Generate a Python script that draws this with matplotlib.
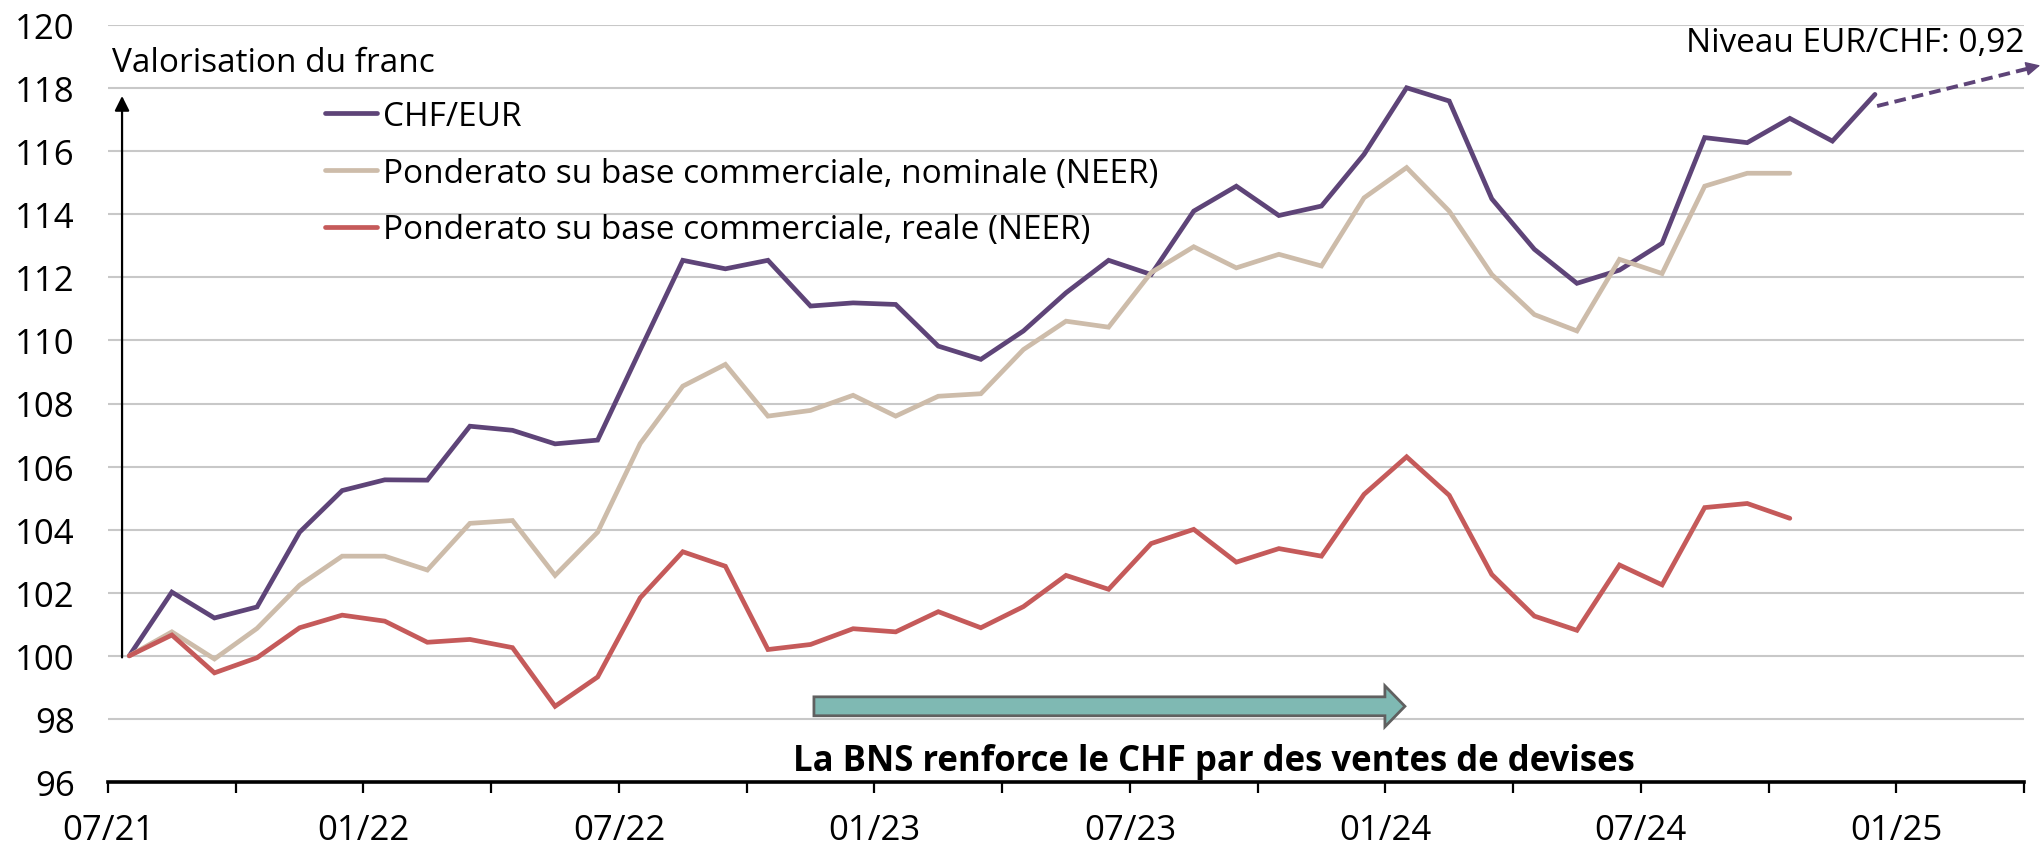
import numpy as np
import matplotlib
matplotlib.use("Agg")
import matplotlib.pyplot as plt
from matplotlib.patches import FancyArrow

plt.rcParams['font.family'] = ['Open Sans', 'DejaVu Sans']

# ---- data ----
months = ["07/21", "10/21", "01/22", "04/22", "07/22", "10/22", "01/23", "04/23",
          "07/23", "10/23", "01/24", "04/24", "07/24", "10/24", "01/25", "04/25"]
label_every = 2

chf_eur = [100.0, 102.02, 101.2, 101.55, 103.92, 105.24, 105.58, 105.57, 107.28, 107.15,
           106.72, 106.84, 109.7, 112.54, 112.27, 112.54, 111.09, 111.19, 111.14, 109.82,
           109.40, 110.30, 111.51, 112.54, 112.09, 114.10, 114.89, 113.96, 114.26, 115.90,
           118.01, 117.59, 114.49, 112.89, 111.81, 112.23, 113.08, 116.43, 116.27, 117.04,
           116.32, 117.80]
neer_nom = [100.0, 100.76, 99.90, 100.87, 102.24, 103.16, 103.16, 102.72, 104.20, 104.29,
            102.55, 103.92, 106.73, 108.55, 109.24, 107.60, 107.78, 108.26, 107.60, 108.23,
            108.31, 109.71, 110.61, 110.42, 112.15, 112.97, 112.30, 112.73, 112.36, 114.52,
            115.48, 114.10, 112.09, 110.82, 110.30, 112.57, 112.12, 114.89, 115.30, 115.30]
neer_real = [100.0, 100.66, 99.46, 99.94, 100.89, 101.29, 101.10, 100.43, 100.52, 100.26,
             98.40, 99.33, 101.84, 103.30, 102.84, 100.20, 100.36, 100.86, 100.76, 101.40,
             100.89, 101.56, 102.55, 102.11, 103.56, 104.01, 102.97, 103.40, 103.16, 105.12,
             106.31, 105.09, 102.58, 101.26, 100.81, 102.88, 102.25, 104.70, 104.83, 104.36]

series_labels = ["CHF/EUR", "Ponderato su base commerciale, nominale (NEER)",
                 "Ponderato su base commerciale, reale (NEER)"]
colors = ["#5E4478", "#CDBCAA", "#C55A5A"]

fs = 24
tfs = 25

fig = plt.figure(figsize=(20.41, 8.45), dpi=100)
ax = fig.add_axes([108/2041, 1-783/845, (2024-108)/2041, (783-26)/845])

for vals, c, lab in zip([chf_eur, neer_nom, neer_real], colors, series_labels):
    x = np.arange(len(vals)) + 0.5
    ax.plot(x, vals, color=c, lw=3.4, label=lab, solid_capstyle='round', solid_joinstyle='miter', zorder=3)

ax.set_xlim(0, 3*(len(months)-1))
ax.set_ylim(96, 120)
ax.set_yticks(np.arange(96, 121, 2))
ax.yaxis.grid(True, color="#C8C8C8", lw=1.5)
ax.set_axisbelow(True)
ax.set_xticks(np.arange(len(months))*3)
ax.set_xticklabels([m if i % label_every == 0 else "" for i, m in enumerate(months)])
for s in ["left", "right", "top"]:
    ax.spines[s].set_visible(False)
ax.spines["bottom"].set_linewidth(2.6)
ax.tick_params(axis='y', length=0, pad=24, labelsize=tfs)
ax.tick_params(axis='x', length=8, width=1.6, direction='out', pad=14, labelsize=tfs)

# vertical axis arrow
ax.annotate("", xy=(0.33, 117.75), xytext=(0.33, 99.95),
            arrowprops=dict(arrowstyle='-|>', color='black', lw=1.6, mutation_scale=22,
                            shrinkA=0, shrinkB=0), zorder=4)
ax.text(0.1, 118.8, "Valorisation du franc", fontsize=fs, ha='left', va='center')

# legend
ax.legend(loc='upper left', bbox_to_anchor=(325/2041, 1-101/845), bbox_transform=fig.transFigure,
          frameon=False, fontsize=fs, handlelength=1.55, handletextpad=0.2, labelspacing=0.71,
          borderpad=0, borderaxespad=0)

# extension arrow
ax.plot([41.55, 45.1], [117.43, 118.62], ls=(0, (3, 1.6)), color=colors[0], lw=2.8, clip_on=False, zorder=3)
ax.annotate("", xy=(45.38, 118.72), xytext=(44.9, 118.56),
            arrowprops=dict(arrowstyle='-|>', color=colors[0], lw=1, mutation_scale=22,
                            shrinkA=0, shrinkB=0), annotation_clip=False)
ax.text(45.02, 119.45, "Niveau EUR/CHF: 0,92", fontsize=fs, ha='right', va='center')

# BNS block arrow
arr = FancyArrow(16.58, 98.40, 13.88, 0, width=0.6, head_width=1.3, head_length=0.47,
                 length_includes_head=True, facecolor="#7FB9B3", edgecolor="#606060", lw=2, zorder=4)
ax.add_patch(arr)
ax.text(25.98, 96.65, "La BNS renforce le CHF par des ventes de devises", fontsize=25,
        fontweight='bold', ha='center', va='center')

fig.savefig("out.png", dpi=100)
